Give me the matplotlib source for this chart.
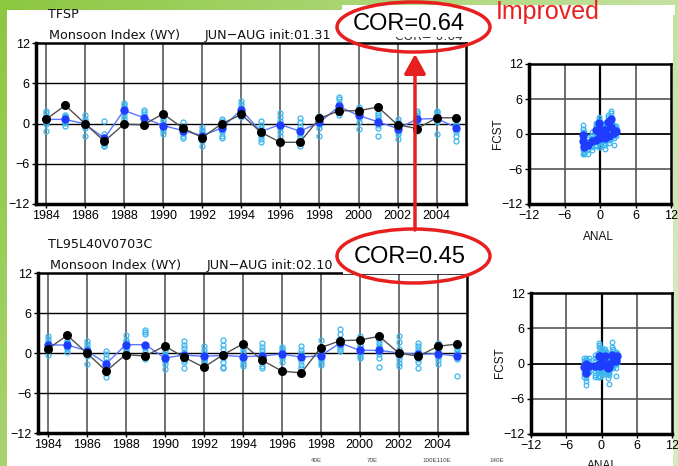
import numpy as np
import matplotlib
matplotlib.use('Agg')
import matplotlib.pyplot as plt
from matplotlib.patches import Rectangle, Ellipse, FancyArrowPatch

W, H = 678, 466

years = list(range(1984, 2006))
year_ticks = list(range(1984, 2005, 2))
value_ticks = [-12, -6, 0, 6, 12]

# ---- TFSP (top) ----
tfsp_obs = [0.6, 2.7, 0.0, -2.65, -0.1, -0.2, 1.45, -0.65, -2.1, -0.05, 1.35,
            -1.3, -2.8, -2.8, 0.75, 1.9, 1.9, 2.45, -0.2, -0.75, 0.85, 0.85]
tfsp_mean = [0.62, 0.6, -0.05, -2.2, 1.95, 0.88, -0.3, -1.05, -1.8, -0.7, 2.05,
             -1.2, -0.15, -1.15, 0.15, 2.55, 1.2, 0.25, -0.75, 0.65, 0.75, -0.6]
tfsp_members = [
    [1.8, 1.5, 1.1, 0.8, 0.5, 0.2, -0.1, -1.1],
    [1.3, 1.1, 0.9, 0.7, 0.5, 0.4, 0.1, -0.3],
    [1.2, 0.6, 0.3, 0.0, -0.2, -0.4, -0.6, -1.8],
    [0.4, -1.6, -2.0, -2.5, -2.8, -3.0, -3.3, -3.4],
    [3.0, 2.7, 2.4, 2.1, 1.8, 1.5, 1.1, 0.6],
    [2.0, 1.7, 1.4, 1.0, 0.7, 0.4, 0.0, -0.3],
    [1.1, 0.7, 0.3, -0.1, -0.4, -0.8, -1.1, -1.6],
    [0.2, -0.3, -0.6, -0.9, -1.1, -1.4, -1.8, -2.1],
    [-0.5, -0.9, -1.3, -1.6, -1.9, -2.2, -2.6, -3.4],
    [0.6, 0.3, -0.2, -0.6, -1.0, -1.3, -1.8, -2.2],
    [3.3, 2.9, 2.4, 2.0, 1.8, 1.6, 1.4, 1.0],
    [0.3, -0.2, -0.7, -1.1, -1.5, -1.9, -2.3, -2.7],
    [1.5, 0.9, 0.4, 0.0, -0.3, -0.7, -1.2, -1.8],
    [0.8, 0.2, -0.5, -1.0, -1.5, -2.0, -2.8, -3.4],
    [1.1, 1.0, 0.8, 0.5, 0.2, -0.2, -0.6, -1.9],
    [4.0, 3.6, 3.0, 2.6, 2.2, 1.9, 1.6, 1.3],
    [2.4, 2.1, 1.8, 1.4, 1.1, 0.8, 0.2, -0.8],
    [1.6, 1.2, 0.9, 0.5, 0.2, -0.2, -0.6, -1.9],
    [0.6, 0.2, -0.3, -0.6, -0.9, -1.2, -1.6, -2.3],
    [1.9, 1.6, 1.3, 0.9, 0.6, 0.3, -0.2, -1.1],
    [1.9, 1.7, 1.4, 1.1, 0.8, 0.5, 0.2, -1.6],
    [0.9, 0.5, 0.0, -0.4, -0.8, -1.2, -1.9, -2.6],
]

# ---- TL95L40V0703C (bottom) ----
tl95_obs = [0.6, 2.65, 0.0, -2.7, -0.25, -0.45, 1.05, -0.65, -2.15, -0.25, 1.35,
            -1.1, -2.7, -3.0, 0.8, 1.85, 1.95, 2.5, 0.0, -0.5, 1.0, 1.35]
tl95_mean = [1.2, 1.2, 0.35, -1.6, 1.25, 1.25, -0.75, -0.3, -0.5, -0.35, -0.55,
             -0.45, -0.15, -0.62, -0.4, 1.5, 0.4, 0.4, 0.0, -0.2, -0.1, -0.5]
tl95_members = [
    [2.5, 2.1, 1.7, 1.4, 1.0, 0.7, 0.3, -0.3],
    [1.8, 1.7, 1.5, 1.3, 1.1, 0.9, 0.6, 0.1],
    [1.8, 1.3, 0.9, 0.6, 0.3, 0.0, -0.4, -1.6],
    [0.3, -0.2, -0.8, -1.4, -1.9, -2.4, -3.0, -3.6],
    [2.7, 2.0, 1.6, 1.2, 0.9, 0.7, 0.5, 0.3],
    [3.5, 3.2, 2.8, 1.2, 0.7, 0.2, -0.3, -0.9],
    [0.5, 0.1, -0.3, -0.6, -0.9, -1.2, -1.7, -2.4],
    [1.8, 1.2, 0.7, 0.1, -0.7, -1.1, -1.4, -2.3],
    [1.0, 0.5, 0.0, -0.5, -0.8, -1.0, -1.2, -1.4],
    [2.0, 1.2, 0.6, -0.1, -0.8, -1.4, -2.1, -2.3],
    [1.1, 0.6, 0.1, -0.4, -0.8, -1.2, -1.6, -1.9],
    [1.5, 0.9, 0.4, -0.2, -0.8, -1.3, -1.9, -2.3],
    [0.9, 0.6, 0.3, 0.0, -0.3, -0.5, -0.8, -1.3],
    [1.0, 0.5, 0.0, -0.4, -0.8, -1.2, -1.8, -2.3],
    [1.9, 0.8, 0.2, -0.3, -0.7, -1.1, -1.5, -1.8],
    [3.6, 2.8, 2.1, 1.6, 1.2, 0.9, 0.6, 0.3],
    [2.5, 1.2, 1.0, 0.5, 0.1, -0.2, -0.4, -0.7],
    [1.9, 1.5, 1.1, 0.7, 0.3, -0.1, -0.8, -2.1],
    [2.6, 1.6, 0.6, 0.0, -0.4, -0.9, -1.5, -2.0],
    [1.5, 1.1, 0.6, 0.1, -0.4, -0.9, -1.4, -2.3],
    [1.5, 1.0, 0.6, 0.2, -0.2, -0.6, -1.1, -1.7],
    [0.9, 0.6, 0.3, 0.0, -0.3, -0.6, -0.9, -3.5],
]

NARROW = ['Liberation Sans Narrow', 'Liberation Sans', 'DejaVu Sans']
SANS = ['Liberation Sans', 'DejaVu Sans']

OBS_C = 'black'
OBS_LINE = '#505050'
MEAN_C = '#1f3dff'
MEAN_LINE = '#5a78ff'
MEM_C = '#3cb6ee'

fig = plt.figure(figsize=(W / 100, H / 100), dpi=100)


def px_rect(l, t, r, b):
    return [l / W, 1 - b / H, (r - l) / W, (b - t) / H]


def ftext(x, y, s, **kw):
    fig.text(x / W, 1 - y / H, s, **kw)


# ---- background: green slide gradient ----
bg = fig.add_axes([0, 0, 1, 1], zorder=-10)
gx = np.linspace(0, 1, W)[None, :, None]
gy = np.linspace(0, 1, H)[:, None, None]
c0 = np.array([0.55, 0.78, 0.25])
c1 = np.array([0.84, 0.92, 0.76])
img = c0 + (c1 - c0) * np.clip(0.75 * gx + 0.35 * gy, 0, 1)
bg.imshow(img, aspect='auto', extent=[0, W, H, 0])
bg.set_xlim(0, W)
bg.set_ylim(H, 0)
bg.axis('off')
bg.add_patch(Rectangle((7, 10), 666, 456, facecolor='white', edgecolor='none'))
bg.add_patch(Rectangle((342, 5), 333, 10, facecolor='white', edgecolor='none'))


def ts_panel(rect, obs, mean, members):
    ax = fig.add_axes(rect)
    ax.set_xlim(1983.5, 2005.5)
    ax.set_ylim(-12, 12)
    for yr in year_ticks:
        ax.axvline(yr, color='#4a4a4a', lw=1.1, zorder=1)
    for v in (-6, 0, 6):
        ax.axhline(v, color='black', lw=1.0, zorder=1)
    for yr, mem in zip(years, members):
        ax.plot([yr] * len(mem), mem, 'o', mfc='none', mec=MEM_C, ms=3.6,
                mew=0.9, zorder=2)
    ax.plot(years, mean, '-', color=MEAN_LINE, lw=1.0, zorder=3)
    ax.plot(years, mean, 'o', color=MEAN_C, ms=6, mec='none', zorder=4)
    ax.plot(years, obs, '-', color=OBS_LINE, lw=1.0, zorder=5)
    ax.plot(years, obs, 'o', color=OBS_C, ms=6.5, mec='none', zorder=6)
    ax.set_xticks(year_ticks)
    ax.set_yticks(value_ticks)
    ax.set_xticklabels([str(y) for y in year_ticks], family=NARROW, fontsize=9)
    ax.set_yticklabels(['\u221212', '\u22126', '0', '6', '12'], family=NARROW, fontsize=9)
    ax.tick_params(direction='out', length=3, width=1, pad=1.5)
    for s in ('left', 'bottom'):
        ax.spines[s].set_linewidth(2.5)
    for s in ('top', 'right'):
        ax.spines[s].set_linewidth(1.8)
    return ax


def sc_panel(rect, obs, mean, members):
    ax = fig.add_axes(rect)
    ax.set_xlim(-12, 12)
    ax.set_ylim(-12, 12)
    for v in (-6, 6):
        ax.axvline(v, color='#555555', lw=1.2, zorder=1)
        ax.axhline(v, color='#555555', lw=1.2, zorder=1)
    ax.axvline(0, color='black', lw=1.6, zorder=1)
    ax.axhline(0, color='black', lw=1.3, zorder=1)
    for o, mem in zip(obs, members):
        ax.plot([o] * len(mem), mem, 'o', mfc='none', mec=MEM_C, ms=3.3,
                mew=0.9, zorder=2)
    ax.plot(obs, mean, 'o', color=MEAN_C, ms=6, mec='none', zorder=3)
    ax.set_xticks(value_ticks)
    ax.set_yticks(value_ticks)
    lbl = ['\u221212', '\u22126', '0', '6', '12']
    ax.set_xticklabels(lbl, family=NARROW, fontsize=9)
    ax.set_yticklabels(lbl, family=NARROW, fontsize=9)
    ax.tick_params(direction='out', length=3, width=1, pad=1.5)
    for s in ('left', 'bottom'):
        ax.spines[s].set_linewidth(2.5)
    for s in ('top', 'right'):
        ax.spines[s].set_linewidth(1.8)
    return ax


ts_panel(px_rect(36, 43, 466, 204), tfsp_obs, tfsp_mean, tfsp_members)
sc_panel(px_rect(529, 64, 671, 204), tfsp_obs, tfsp_mean, tfsp_members)
ts_panel(px_rect(38, 273, 467, 433), tl95_obs, tl95_mean, tl95_members)
sc_panel(px_rect(531, 293, 672, 434), tl95_obs, tl95_mean, tl95_members)

# ---- panel titles ----
tkw = dict(family=['DejaVu Sans'], fontsize=9.2, va='center', ha='left', color='#111111')
ftext(48, 15, 'TFSP', **tkw)
ftext(49, 35, 'Monsoon Index (WY)', **tkw)
ftext(205, 35, 'JUN\u2212AUG init:01.31', **tkw)
ftext(48, 245, 'TL95L40V0703C', **tkw)
ftext(50, 265, 'Monsoon Index (WY)', **tkw)
ftext(207, 265, 'JUN\u2212AUG init:02.10', **tkw)

# scatter axis labels
lkw = dict(family=SANS, fontsize=8.5, color='#111111')
ftext(498, 134, 'FCST', rotation=90, ha='center', va='center', **lkw)
ftext(598, 237, 'ANAL', ha='center', va='center', **lkw)
ftext(500, 363, 'FCST', rotation=90, ha='center', va='center', **lkw)
ftext(602, 466, 'ANAL', ha='center', va='center', **lkw)

# tiny leftover map labels
skw = dict(family=SANS, fontsize=4.5, color='#444444', ha='center', va='center')
ftext(316, 461, '40E', **skw)
ftext(372, 461, '70E', **skw)
ftext(437, 461, '100E110E', **skw)
ftext(497, 461, '140E', **skw)

# ---- annotation overlays ----
ftext(395, 36, 'COR= 0.64', family=['DejaVu Sans'], fontsize=8.8, va='center',
      ha='left', color='#333333', zorder=5)
fig.add_artist(Rectangle((342 / W, 1 - 36.5 / H), 148 / W, 31.5 / H,
                         transform=fig.transFigure, facecolor='white',
                         edgecolor='none', zorder=6))
fig.add_artist(Rectangle((343 / W, 1 - 273.5 / H), 147 / W, 45 / H,
                         transform=fig.transFigure, facecolor='white',
                         edgecolor='none', zorder=6))

ckw = dict(family=SANS, fontsize=17, ha='center', va='center', color='black', zorder=8)
ftext(409, 24, 'COR=0.64', **ckw)
ftext(410, 257, 'COR=0.45', **ckw)
ftext(548, 12, 'Improved', family=SANS, fontsize=18, ha='center', va='center',
      color='#e81f1f', zorder=8)

fig.add_artist(Ellipse((413.5 / W, 1 - 27 / H), 153 / W, 50 / H,
                       transform=fig.transFigure, facecolor='none',
                       edgecolor='#e81f1f', lw=2.5, zorder=9))
fig.add_artist(Ellipse((413.5 / W, 1 - 256 / H), 153 / W, 54 / H,
                       transform=fig.transFigure, facecolor='none',
                       edgecolor='#e81f1f', lw=2.5, zorder=9))
fig.add_artist(FancyArrowPatch((415 / W, 1 - 230 / H), (415 / W, 1 - 54 / H),
                               transform=fig.transFigure,
                               arrowstyle='-|>,head_length=4,head_width=2.2',
                               color='#e81f1f', lw=2.5, mutation_scale=3,
                               shrinkA=0, shrinkB=0, zorder=9))

fig.savefig('out.png', dpi=100)
